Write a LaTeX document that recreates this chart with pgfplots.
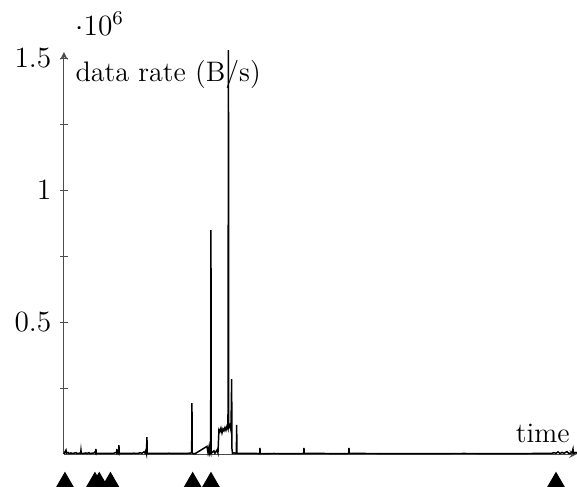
\documentclass[border=0pt]{standalone}
\usepackage{pgfplots}
\pgfplotsset{compat=1.18}

\begin{document}
\begin{tikzpicture}
\begin{axis}[
  scale only axis,
  width=209.4pt, height=164.1pt,
  axis lines=left,
  xmin=0, xmax=513,
  ymin=0, ymax=1523000,
  xtick=\empty,
  ytick={500000,1000000,1500000},
  minor ytick={250000,750000,1250000},
  tick align=center,
  major tick length=3.2pt,
  minor tick length=3.2pt,
  axis line style={line width=0.4pt, black!70},
  tick style={black!70},
  tick label style={font=\fontsize{12}{14}\selectfont},
  clip=false,
  every y tick scale label/.style={at={(rel axis cs:0,1)}, anchor=south west, xshift=4.5pt, yshift=6.5pt, inner sep=0pt, font=\fontsize{12}{14}\selectfont},
  xlabel={time},
  ylabel={data rate (B/s)},
  every axis x label/.style={at={(rel axis cs:1,0)}, anchor=south east, xshift=0.5pt, yshift=1pt, font=\fontsize{11.5}{14}\selectfont},
  every axis y label/.style={at={(rel axis cs:0,1)}, anchor=north west, xshift=1.2pt, font=\fontsize{11.5}{14}\selectfont},
]
% measured data rate over time
\addplot[black, line width=0.6pt] coordinates {
(0,0) (1,8000) (2,15000) (2.5,3000) (4,6000) (5,2000) (7,4000) (8,2500)
(10,3000) (12,5000) (13,2000) (15,3000) (16.7,3000) (17,14000) (17.3,3000)
(20,2500) (22,4000) (23,2000) (25,5000) (26,2000) (28,3000) (30,4000)
(31,8000) (31.7,3000) (32,19000) (32.3,3000) (35,2000) (40,2500) (45,2000)
(50,3000) (52,6000) (52.7,3000) (53,19000) (53.3,4000) (54,8000) (54.7,3000)
(55,34000) (55.3,3000) (58,2500) (62,2000) (66,2500) (70,3000) (74,2000)
(76,5000) (78,3000) (80,8000) (81,4000) (82,15000) (82.5,5000) (83,64000)
(83.3,3000) (86,2500) (90,2000) (95,2500) (100,2000) (105,3000) (110,2000)
(115,2500) (120,2000) (125,3000) (127.7,4000) (128,193000) (128.3,4000)
(129,2000) (131,1000) (143,29000) (144,6000) (145,26000) (145.5,3000)
(146,10000) (146.7,3000) (147,848000) (147.3,3000) (148,5000) (150,12000)
(151,3000) (153,15000) (154,4000) (155,92000) (156,85000) (157,98000)
(158,80000) (159,95000) (160,88000) (161,100000) (162,90000) (163,105000)
(164,95000) (164.5,1530000) (164.8,100000) (166,110000) (167,90000)
(167.7,284000) (168,20000) (168.5,3000) (170,4000) (172.4,3000)
(172.7,110000) (173,3000) (176,2500) (180,2000) (190,2500) (195.7,1500)
(196,23000) (196.3,1500) (210,2000) (230,1500) (239.7,2000) (240,23000)
(240.3,2000) (260,2000) (280,1500) (284.7,2000) (285,23000) (285.3,2000)
(300,2000) (350,1500) (400,2000) (450,1500) (488,2500) (490,5000) (492,3000)
(494,8000) (496,2000) (498,6000) (500,3000) (503,9000) (505,2000) (508,5000)
(509,19000) (509.5,3000) (512,6000) (513,3000)
};
% event markers below the time axis
\addplot[only marks, mark=triangle*, mark size=3.8pt, black] coordinates {
(1,-106000) (31,-106000) (35.3,-106000) (46.5,-106000)
(128.7,-106000) (147,-106000) (492,-106000)
};
\end{axis}
\pgfresetboundingbox
\useasboundingbox (-26.1pt,-13.1pt) rectangle (209.4pt,185.3pt);
\end{tikzpicture}
\end{document}
